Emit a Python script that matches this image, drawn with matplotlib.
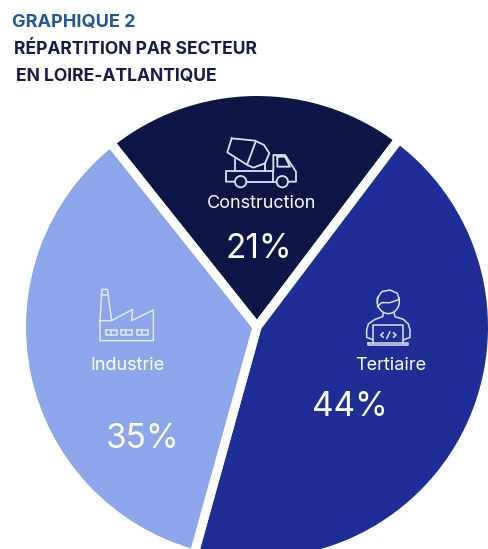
import numpy as np
import matplotlib
matplotlib.use("Agg")
import matplotlib.pyplot as plt
from matplotlib.patches import Circle

categories = ["Construction", "Tertiaire", "Industrie"]
values = [21, 44, 35]
labels = ["21%", "44%", "35%"]
colors = ["#0D1546", "#1E2E96", "#8CA5EB"]
title_top = "GRAPHIQUE 2"
title_lines = ["RÉPARTITION PAR SECTEUR", "EN LOIRE-ATLANTIQUE"]

W, H = 488, 549
fig = plt.figure(figsize=(W / 100, H / 100), dpi=100)
ax = fig.add_axes([0, 0, 1, 1])
ax.pie(values, colors=colors, startangle=128.5, counterclock=False,
       center=(257, H - 327), radius=235.5,
       wedgeprops=dict(edgecolor="white", linewidth=6.5), frame=True)
ax.set_xlim(0, W)
ax.set_ylim(0, H)
ax.set_aspect("equal")
ax.axis("off")

FONT = "Inter"


def label(x, y, s, **kw):
    ax.text(x, H - y, s, family=FONT, va="center", **kw)


label(12, 22, title_top, color="#1F569F", fontsize=13, fontweight="bold")
label(14, 50, title_lines[0], color="#151B4B", fontsize=12.6, fontweight="bold")
label(16, 77, title_lines[1], color="#151B4B", fontsize=12.6, fontweight="bold")

label(262, 203, categories[0], color="white", fontsize=13, ha="center")
label(391, 366, categories[1], color="white", fontsize=13, ha="center")
label(127, 365, categories[2], color="white", fontsize=13, ha="center")
label(259, 249, labels[0], color="white", fontsize=24, ha="center")
label(350, 407, labels[1], color="white", fontsize=24, ha="center")
label(143, 439, labels[2], color="white", fontsize=24, ha="center")


def icon(ox, oy, paths, circles=(), color="#DDE2F2", lw=1.0):
    for p in paths:
        a = np.array(p, float)
        ax.plot(ox + a[:, 0] / 3, H - (oy + a[:, 1] / 3), color=color, lw=lw,
                solid_joinstyle="round", solid_capstyle="round")
    for (cx, cy, r) in circles:
        ax.add_patch(Circle((ox + cx / 3, H - (oy + cy / 3)), r / 3, fill=False,
                            edgecolor=color, lw=lw))


# Concrete mixer truck
icon(190, 120, [
    [(125, 55), (195, 62), (222, 75), (238, 100), (225, 130), (190, 143), (172, 135), (112, 97), (125, 55)],
    [(197, 65), (172, 132)],
    [(135, 118), (135, 153)], [(225, 130), (225, 153)],
    [(133, 185), (108, 185), (108, 153), (250, 153), (250, 105), (285, 105), (318, 155), (318, 185), (296, 185)],
    [(170, 185), (258, 185)], [(250, 153), (250, 185)],
    [(262, 110), (285, 110), (300, 140), (262, 140), (262, 110)],
], circles=[(152, 185, 17), (277, 185, 17)], lw=1.3)

# Factory
icon(80, 280, [
    [(60, 122), (66, 28), (82, 28), (95, 122)],
    [(64, 45), (85, 45)],
    [(60, 122), (60, 182), (220, 182), (220, 90), (155, 122), (158, 88), (95, 122), (60, 122)],
    [(78, 150), (110, 150), (110, 165), (78, 165), (78, 150)], [(94, 150), (94, 165)],
    [(123, 150), (155, 150), (155, 165), (123, 165), (123, 150)], [(139, 150), (139, 165)],
    [(170, 150), (205, 150), (205, 165), (170, 165), (170, 150)], [(187, 150), (187, 165)],
], color="#E3E9FA", lw=1.1)

# Person at laptop
t = np.radians(np.arange(-20, 215, 15))
hx = 145 + 33 * np.cos(t)
hy = 65 + 36 * np.sin(t)
icon(340, 280, [
    list(zip(hx, hy)),
    [(112, 72), (112, 55), (125, 35), (150, 30), (172, 40), (178, 58), (150, 68), (125, 68), (112, 80)],
    [(130, 98), (128, 110), (105, 118), (85, 132), (80, 150), (80, 172), (100, 180)],
    [(162, 98), (165, 110), (190, 118), (205, 132), (210, 150), (210, 172), (190, 180)],
    [(100, 190), (100, 135), (190, 135), (190, 190)],
    [(85, 190), (205, 190), (205, 195), (85, 195), (85, 190)],
    [(130, 158), (122, 165), (130, 172)], [(160, 158), (168, 165), (160, 172)], [(150, 155), (140, 176)],
], lw=1.1)

fig.savefig("out.png", dpi=100)
